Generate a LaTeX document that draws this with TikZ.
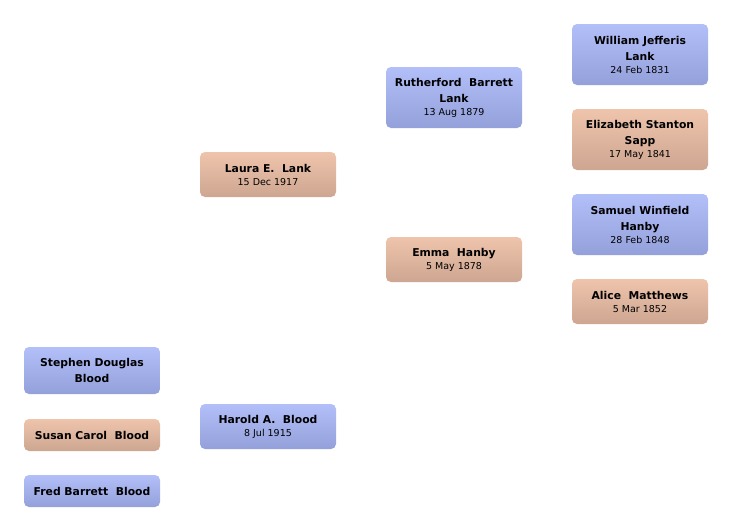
\documentclass[tikz,border=0pt]{standalone}
\usepackage{fontspec}
\setmainfont{DejaVu Sans}
\definecolor{maletop}{HTML}{B2BFF9}
\definecolor{malebot}{HTML}{94A0DA}
\definecolor{femtop}{HTML}{EFC4AC}
\definecolor{fembot}{HTML}{CDA691}
\newcommand{\bday}[1]{{\fontsize{9.5}{12}\selectfont\mdseries #1}}
\begin{document}
\begin{tikzpicture}[
    x=1pt, y=-1pt,
    person/.style={rounded corners=5pt, minimum width=136pt, inner sep=0pt,
        align=center, font=\fontsize{10.8}{16}\selectfont\bfseries},
    male/.style={person, top color=maletop, bottom color=malebot},
    female/.style={person, top color=femtop, bottom color=fembot}
]
\useasboundingbox (0,0) rectangle (732,531);

% great-grandparents
\node[male, minimum height=61pt]   (william)   at (640,54.5)  {William Jefferis\\Lank\\[-3pt]\bday{24 Feb 1831}};
\node[female, minimum height=61pt] (elizabeth) at (640,139.5) {Elizabeth Stanton\\Sapp\\[-3pt]\bday{17 May 1841}};
\node[male, minimum height=61pt]   (samuel)    at (640,224.5) {Samuel Winfield\\Hanby\\[-3pt]\bday{28 Feb 1848}};
\node[female, minimum height=45pt] (alice)     at (640,301.5) {Alice\ \ Matthews\\[-3pt]\bday{5 Mar 1852}};

% grandparents
\node[male, minimum height=61pt]   (rutherford) at (454,97.5)  {Rutherford\ \ Barrett\\Lank\\[-3pt]\bday{13 Aug 1879}};
\node[female, minimum height=45pt] (emma)       at (454,259.5) {Emma\ \ Hanby\\[-3pt]\bday{5 May 1878}};

% parents
\node[female, minimum height=45pt] (laura)  at (268,174.5) {Laura E.\ \ Lank\\[-3pt]\bday{15 Dec 1917}};
\node[male, minimum height=45pt]   (harold) at (268,426.5) {Harold A.\ \ Blood\\[-3pt]\bday{8 Jul 1915}};

% children
\node[male, minimum height=47pt]   (stephen) at (92,370.5) {Stephen Douglas\\Blood};
\node[female, minimum height=32pt] (susan)   at (92,435)   {Susan Carol\ \ Blood};
\node[male, minimum height=32pt]   (fred)    at (92,491)   {Fred Barrett\ \ Blood};

\end{tikzpicture}
\end{document}
